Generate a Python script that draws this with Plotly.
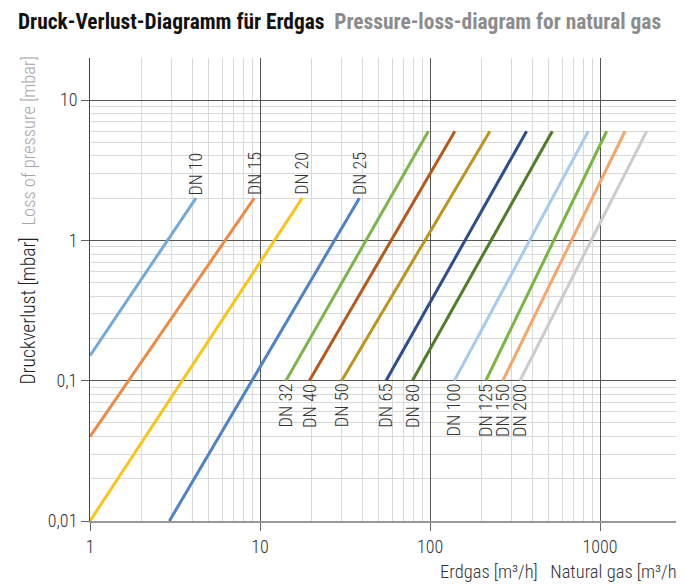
import math
import plotly.graph_objects as go

# ---- data ----
labels = ["DN 10", "DN 15", "DN 20", "DN 25", "DN 32", "DN 40", "DN 50",
          "DN 65", "DN 80", "DN 100", "DN 125", "DN 150", "DN 200"]
flow_start = [1.0, 1.0, 1.0, 2.93, 14.2, 19.5, 30.2, 55.1, 78.7, 139, 213, 268, 338]
flow_end = [4.2, 9.25, 17.7, 38.4, 97.8, 140, 225, 370, 524, 853, 1095, 1403, 1882]
loss_start = [0.151, 0.040, 0.01, 0.01, 0.1, 0.1, 0.1, 0.1, 0.1, 0.1, 0.1, 0.1, 0.1]
loss_end = [2.0, 2.0, 2.0, 2.0, 6.0, 6.0, 6.0, 6.0, 6.0, 6.0, 6.0, 6.0, 6.0]
label_above = [True, True, True, True, False, False, False, False, False, False, False, False, False]
colors = ["#74a9da", "#ec8a48", "#fbc41c", "#4f82c6", "#7eb44c", "#b45a1f", "#bb951f",
          "#2f4d8c", "#507c2b", "#a9c9ee", "#7ab443", "#f5a56c", "#cccccc"]

x_ticks = [1, 10, 100, 1000]
x_ticktext = ["1", "10", "100", "1000"]
y_ticks = [0.01, 0.1, 1, 10]
y_ticktext = ["0,01", "0,1", "1", "10"]
x_minor = [m * 10 ** d for d in range(0, 3) for m in range(2, 10)]
y_minor = [round(m * 10 ** d, 4) for d in range(-2, 2) for m in range(2, 10)]

FONT = "Roboto Condensed, Roboto, sans-serif"
OFF = 8  # default page body margin

W, H = 684 - OFF, 585 - OFF
L, R, T, B = 90 - OFF, 2, 58 - OFF, 64
PW, PH = W - L - R, H - T - B


def px_x(p):
    return (p - 90) / PW


def px_y(p):
    return (521 - p) / PH


fig = go.Figure()
annotations = []
for name, x0, x1, y0, y1, above, c in zip(labels, flow_start, flow_end, loss_start,
                                          loss_end, label_above, colors):
    fig.add_trace(go.Scatter(x=[x0, x1], y=[y0, y1], mode="lines",
                             line=dict(color=c, width=3), name=name,
                             showlegend=False, hoverinfo="name"))
    if above:
        annotations.append(dict(x=math.log10(x1), y=math.log10(y1),
                                xref="x", yref="y", text=name, showarrow=False,
                                textangle=-90, xanchor="center", yanchor="bottom", yshift=1,
                                font=dict(family=FONT, size=18, color="#333", weight=300)))
    else:
        annotations.append(dict(x=math.log10(x0), y=math.log10(y0),
                                xref="x", yref="y", text=name, showarrow=False,
                                textangle=-90, xanchor="center", yanchor="top", yshift=-1,
                                font=dict(family=FONT, size=18.5, color="#333", weight=300)))

# axis titles
annotations.append(dict(xref="paper", yref="paper", x=px_x(28), y=px_y(387),
                        text="Druckverlust [mbar]",
                        showarrow=False, textangle=-90, xanchor="center", yanchor="bottom",
                        font=dict(family=FONT, size=19.5, color="#222", weight=300)))
annotations.append(dict(xref="paper", yref="paper", x=px_x(28), y=px_y(228),
                        text="Loss of pressure [mbar]",
                        showarrow=False, textangle=-90, xanchor="center", yanchor="bottom",
                        font=dict(family=FONT, size=18.5, color="#a6a6a6", weight=300)))
annotations.append(dict(xref="paper", yref="paper", x=px_x(683), y=px_y(572),
                        text="Erdgas [m³/h]   Natural gas [m³/h]",
                        showarrow=False, xanchor="right", yanchor="middle",
                        font=dict(family=FONT, size=18.5, color="#333", weight=300)))

fig.update_layout(
    width=W, height=H,
    margin=dict(l=L, r=R, t=T, b=B),
    paper_bgcolor="white", plot_bgcolor="white",
    title=dict(text="<b>Druck-Verlust-Diagramm für Erdgas</b>  "
                    "<span style='color:#8c8c8c'><b>Pressure-loss-diagram for natural gas</b></span>",
               x=(18 - OFF) / W, xanchor="left", y=1 - (22 - OFF) / H, yanchor="middle",
               font=dict(family=FONT, size=21.4, color="#111")),
    annotations=annotations,
    xaxis=dict(type="log", range=[0, PW / 170], tickvals=x_ticks, ticktext=x_ticktext,
               showgrid=True, gridcolor="#555", gridwidth=1,
               showline=True, linecolor="#999", linewidth=2,
               ticks="outside", ticklen=8, tickcolor="#666",
               tickfont=dict(family=FONT, size=18, color="#333", weight=300),
               minor=dict(tickvals=x_minor, showgrid=True, gridcolor="#d9d9d9", gridwidth=1, ticks=""),
               zeroline=False, fixedrange=True),
    yaxis=dict(type="log", range=[-2, -2 + PH / 140.3], tickvals=y_ticks, ticktext=y_ticktext,
               showgrid=True, gridcolor="#555", gridwidth=1,
               showline=True, linecolor="#444", linewidth=1,
               ticks="outside", ticklen=8, tickcolor="#666",
               tickfont=dict(family=FONT, size=18, color="#333", weight=300),
               minor=dict(tickvals=y_minor, showgrid=True, gridcolor="#d9d9d9", gridwidth=1, ticks=""),
               zeroline=False, fixedrange=True),
)

fig.write_html("out.html")
